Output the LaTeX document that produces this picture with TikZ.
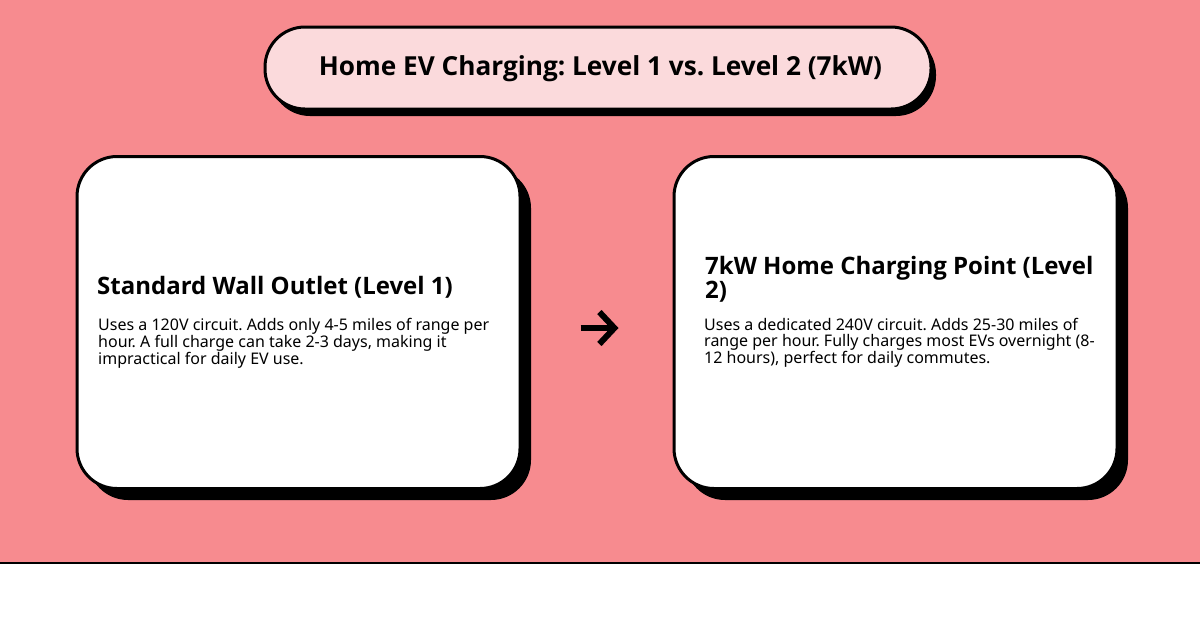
\documentclass[tikz,border=0pt]{standalone}
\usepackage{fontspec}
\setmainfont{Noto Sans}
\newfontfamily\headfont{Open Sans}
\usepackage{tikz}
\usetikzlibrary{arrows.meta, positioning, shadows}
\frenchspacing
\definecolor{bandred}{HTML}{F78B8F}
\definecolor{titlepink}{HTML}{FBDADC}
\tikzstyle{titlebox} = [rectangle, rounded corners=40pt, minimum width=666pt, minimum
height=82pt, draw=black, line width=3pt, fill=titlepink,
drop shadow={shadow xshift=5pt, shadow yshift=-7pt, fill=black, opacity=1}]
\tikzstyle{titletext} = [inner sep=0pt, font=\headfont\fontsize{26.2}{30}\selectfont\bfseries]
\tikzstyle{card} = [rectangle, rounded corners=40pt, minimum width=443pt, minimum
height=332pt, draw=black, line width=3pt, fill=white,
drop shadow={shadow xshift=11pt, shadow yshift=-11.5pt, fill=black, opacity=1}]
\tikzstyle{heading} = [anchor=west, inner sep=0pt, align=left,
font=\headfont\fontsize{24}{24}\selectfont\bfseries]
\tikzstyle{bodytext} = [anchor=north west, inner sep=0pt, align=left,
font=\fontsize{16}{16}\selectfont]
\tikzstyle{arrow} = [line width=6pt,-{Straight Barb[length=15pt,width=32pt,line width=6pt]}]

\begin{document}
\begin{tikzpicture}[x=1pt, y=-1pt]

\useasboundingbox (0,0) rectangle (1200,630);
\fill[bandred] (0,0) rectangle (1200,562);
\draw[line width=2pt] (0,563) -- (1200,563);

\node(title)[titlebox] at (598,68){};
\node(titlelabel)[titletext] at (600.5,69){Home EV Charging: Level 1 vs. Level 2 (7kW)};
\node(outlet)[card] at (298.5,322.5){};
\node(point)[card] at (895.5,322.5){};

\node(outlethead)[heading] at (97,287){Standard Wall Outlet (Level 1)};
\node(outletbody)[bodytext] at (98,318){Uses a 120V circuit. Adds only 4-5 miles of range per\\hour. A full charge can take 2-3 days, making it\\impractical for daily EV use.};
\node(pointhead)[heading] at (705,279){7kW Home Charging Point (Level\\2)};
\node(pointbody)[bodytext] at (704,318){Uses a dedicated 240V circuit. Adds 25-30 miles of\\range per hour. Fully charges most EVs overnight (8-\\12 hours), perfect for daily commutes.};

\draw[arrow, shorten <=59pt, shorten >=54pt]([yshift=-5.5pt]outlet.east) -- ([yshift=-5.5pt]point.west);

\end{tikzpicture}
\end{document}
